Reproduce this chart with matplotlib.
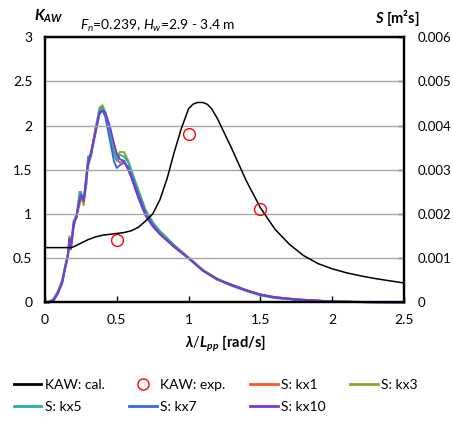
import numpy as np
import matplotlib
matplotlib.use("Agg")
import matplotlib.pyplot as plt
from matplotlib.lines import Line2D

plt.rcParams['font.family'] = ['Lato', 'DejaVu Sans']
plt.rcParams['mathtext.fontset'] = 'custom'
plt.rcParams['mathtext.rm'] = 'Lato'
plt.rcParams['mathtext.it'] = 'Lato:italic'
plt.rcParams['mathtext.bf'] = 'Lato:bold'
plt.rcParams['mathtext.bfit'] = 'Lato:bold:italic'

# KAW: calculated
lam_cal = [0, 0.1, 0.18, 0.2, 0.25, 0.3, 0.35, 0.4, 0.45, 0.5, 0.55, 0.6, 0.65, 0.7,
           0.75, 0.8, 0.85, 0.9, 0.95, 1.0, 1.03, 1.06, 1.1, 1.13, 1.16, 1.2, 1.3,
           1.4, 1.5, 1.6, 1.7, 1.8, 1.9, 2.0, 2.1, 2.2, 2.3, 2.4, 2.5]
kaw_cal = [0.62, 0.62, 0.62, 0.63, 0.67, 0.71, 0.74, 0.76, 0.77, 0.78, 0.79, 0.81, 0.85, 0.92,
           1.0, 1.16, 1.4, 1.7, 1.97, 2.19, 2.24, 2.26, 2.26, 2.24, 2.19, 2.08, 1.74,
           1.38, 1.07, 0.83, 0.66, 0.53, 0.44, 0.38, 0.335, 0.30, 0.27, 0.245, 0.22]

# KAW: experiment
lam_exp = [0.5, 1.0, 1.5]
kaw_exp = [0.71, 1.9, 1.06]

# wave spectra S [1e-3 m^2 s]
lam_s = [0, 0.03, 0.06, 0.09, 0.12, 0.14, 0.16, 0.17, 0.18, 0.2,
         0.22, 0.24, 0.25, 0.27, 0.29, 0.3, 0.32, 0.35, 0.38, 0.4,
         0.42, 0.45, 0.48, 0.5, 0.52, 0.55, 0.58, 0.6, 0.65, 0.7,
         0.75, 0.8, 0.9, 1.0, 1.1, 1.2, 1.3, 1.4, 1.5, 1.6,
         1.75, 2.0, 2.25, 2.5]
s_kx1 = [0, 0, 0.06, 0.24, 0.5, 0.8, 1.1, 1.4, 1.2, 1.7,
         2.0, 2.2, 2.4, 2.3, 2.9, 3.2, 3.4, 3.9, 4.36, 4.4,
         4.24, 3.84, 3.44, 3.24, 3.16, 3.2, 3.0, 2.84, 2.4, 2.0,
         1.76, 1.56, 1.26, 1.0, 0.72, 0.52, 0.4, 0.28, 0.18, 0.12,
         0.07, 0.024, 0.008, 0]
s_kx3 = [0, 0.02, 0.08, 0.26, 0.5, 0.82, 1.1, 1.5, 1.3, 1.86,
         1.9, 2.5, 2.4, 2.2, 2.9, 3.1, 3.3, 3.9, 4.4, 4.46,
         4.3, 3.9, 3.5, 3.3, 3.4, 3.4, 3.2, 3.0, 2.55, 2.1,
         1.82, 1.62, 1.3, 1.02, 0.74, 0.54, 0.4, 0.28, 0.18, 0.12,
         0.07, 0.024, 0.008, 0]
s_kx5 = [0, 0.02, 0.08, 0.24, 0.48, 0.8, 1.1, 1.3, 1.2, 1.8,
         2.0, 2.4, 2.5, 2.3, 2.7, 3.3, 3.3, 3.85, 4.36, 4.4,
         4.26, 3.82, 3.36, 3.2, 3.34, 3.3, 3.16, 2.98, 2.5, 2.06,
         1.8, 1.6, 1.28, 1.0, 0.72, 0.52, 0.38, 0.26, 0.16, 0.1,
         0.06, 0.02, 0.006, 0]
s_kx7 = [0, 0, 0.06, 0.22, 0.46, 0.78, 1.06, 1.44, 1.22, 1.8,
         1.96, 2.3, 2.44, 2.3, 2.9, 3.2, 3.35, 3.8, 4.3, 4.34,
         4.2, 3.7, 3.2, 3.04, 3.1, 3.16, 3.06, 2.9, 2.44, 2.02,
         1.76, 1.56, 1.26, 1.0, 0.72, 0.52, 0.38, 0.27, 0.17, 0.11,
         0.06, 0.02, 0.006, 0]
s_kx10 = [0, 0, 0.04, 0.2, 0.44, 0.76, 1.04, 1.44, 1.24, 1.76,
          1.94, 2.3, 2.4, 2.3, 2.86, 3.1, 3.36, 3.84, 4.26, 4.34,
          4.3, 4.0, 3.6, 3.36, 3.24, 3.2, 3.0, 2.84, 2.36, 1.96,
          1.72, 1.54, 1.25, 1.0, 0.72, 0.52, 0.4, 0.28, 0.18, 0.12,
          0.07, 0.024, 0.008, 0]

s_series = [("S: kx1", s_kx1, "#f4562a"),
            ("S: kx3", s_kx3, "#84a92c"),
            ("S: kx5", s_kx5, "#22b3a8"),
            ("S: kx7", s_kx7, "#3a68dc"),
            ("S: kx10", s_kx10, "#7a38d6")]

fig = plt.figure(figsize=(4.53, 4.24), dpi=100)
ax = fig.add_axes([0.0993, 0.2866, 0.7927, 0.6261])
ax2 = ax.twinx()

ax.set_xlim(0, 2.5)
ax.set_ylim(0, 3)
ax2.set_ylim(0, 0.006)
ax.set_xticks([0, 0.5, 1, 1.5, 2, 2.5])
ax.set_xticklabels(["0", "0.5", "1", "1.5", "2", "2.5"])
ax.set_yticks([0, 0.5, 1, 1.5, 2, 2.5, 3])
ax.set_yticklabels(["0", "0.5", "1", "1.5", "2", "2.5", "3"])
ax2.set_yticks([0, 0.001, 0.002, 0.003, 0.004, 0.005, 0.006])
ax2.set_yticklabels(["0", "0.001", "0.002", "0.003", "0.004", "0.005", "0.006"])

ax.grid(axis='y', color='#a6a6a6', linewidth=1.0)
ax.set_axisbelow(True)
for a in (ax, ax2):
    for sp in a.spines.values():
        sp.set_linewidth(1.6)
        sp.set_color('black')
ax.tick_params(axis='y', length=0, pad=9, labelsize=10)
ax.tick_params(axis='x', direction='in', length=4, width=1, pad=8, labelsize=10)
ax2.tick_params(axis='y', direction='in', length=4, width=1, pad=10, labelsize=9.5)

lines = {}
for name, vals, col in s_series:
    l, = ax2.plot(lam_s, np.array(vals) * 1e-3, color=col, linewidth=1.4,
                  clip_on=False, zorder=2)
    lines[name] = l

l_cal, = ax.plot(lam_cal, kaw_cal, color='black', linewidth=1.1, zorder=3)
l_exp, = ax.plot(lam_exp, kaw_exp, linestyle='none', marker='o', markersize=8.5,
                 markerfacecolor='none', markeredgecolor='red', markeredgewidth=1.0, zorder=4)
ax.set_zorder(ax2.get_zorder() + 1)
ax.patch.set_visible(False)

fig.text(0.075, 0.982, r'$\mathbfit{K}_{\mathbfit{AW}}$', fontsize=11, ha='left', va='top')
fig.text(0.177, 0.958, r'$F_n$=0.239, $H_w$=2.9 - 3.4 m', fontsize=10, ha='left', va='top')
fig.text(0.877, 0.982, r'$\mathbfit{S}$ [m²s]', fontsize=10.5, fontweight='bold',
         ha='center', va='top')
fig.text(0.497, 0.19, r'$\mathbfit{\lambda}/\mathbfit{L}_{\mathbfit{pp}}$ [rad/s]',
         fontsize=10.5, fontweight='bold', ha='center', va='center')

handles = [l_cal, lines["S: kx5"], l_exp, lines["S: kx7"],
           lines["S: kx1"], lines["S: kx10"], lines["S: kx3"]]
labels = ["KAW: cal.", "S: kx5", "KAW: exp.", "S: kx7",
          "S: kx1", "S: kx10", "S: kx3"]
leg_handles = []
for h in handles:
    if h is l_exp:
        leg_handles.append(Line2D([], [], linestyle='none', marker='o', markersize=8,
                                  markerfacecolor='none', markeredgecolor='red'))
    else:
        leg_handles.append(Line2D([], [], color=h.get_color(), linewidth=2))
fig.legend(leg_handles, labels, ncol=4, loc='upper left', bbox_to_anchor=(0.018, 0.12),
           frameon=False, fontsize=10, handlelength=2.0, handletextpad=0.25,
           columnspacing=1.75, labelspacing=0.75, borderaxespad=0)

fig.savefig("out.png", dpi=100)
